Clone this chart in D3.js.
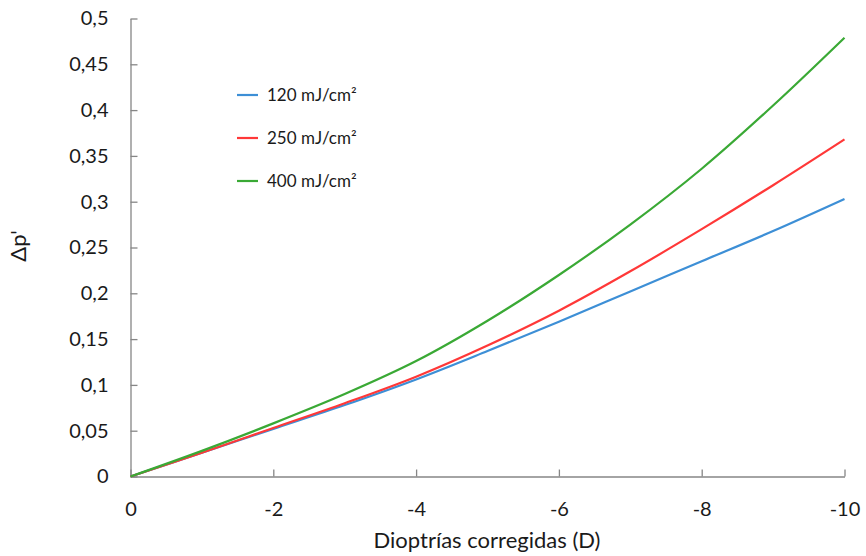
<!DOCTYPE html>
<html>
<head>
<meta charset="utf-8">
<script src="https://cdn.jsdelivr.net/npm/d3@7"></script>
<style>
  html, body { margin: 0; padding: 0; background: #fff; }
  svg { display: block; font-family: Lato, "Open Sans", sans-serif; }
</style>
</head>
<body>
<script>
const diopters = [0, -1, -2, -3, -4, -5, -6, -7, -8, -9, -10];
const s120 = [0, 0.026, 0.052, 0.078, 0.106, 0.137, 0.169, 0.202, 0.235, 0.268, 0.303];
const s250 = [0, 0.026, 0.053, 0.080, 0.109, 0.143, 0.181, 0.224, 0.270, 0.318, 0.368];
const s400 = [0, 0.028, 0.058, 0.090, 0.126, 0.170, 0.220, 0.275, 0.336, 0.405, 0.479];
const seriesNames = ["120 mJ/cm²", "250 mJ/cm²", "400 mJ/cm²"];
const seriesColors = ["#3d8fd6", "#ff3838", "#3aa935"];
const xTicks = [0, -2, -4, -6, -8, -10];
const yTicks = [0, 0.05, 0.1, 0.15, 0.2, 0.25, 0.3, 0.35, 0.4, 0.45, 0.5];
const xTitle = "Dioptrías corregidas (D)";
const yTitle = "Δp'";

const W = 866, H = 556;
const svg = d3.select("body").append("svg").attr("width", W).attr("height", H);

const x = d3.scaleLinear().domain([0, -10]).range([130.5, 844.5]);
const y = d3.scaleLinear().domain([0, 0.5]).range([476.5, 18.5]);

const axisColor = "#868686";
const fmt = v => d3.format(".2~f")(v).replace(".", ",");

// X axis
const gx = svg.append("g").attr("transform", `translate(0,${y(0)})`)
  .call(d3.axisBottom(x).tickValues(xTicks).tickFormat(d => d === 0 ? "0" : String(d)).tickSizeInner(-7).tickSizeOuter(0).tickPadding(25));
gx.select(".domain").attr("stroke", axisColor).attr("stroke-width", 1.3);
gx.selectAll(".tick line").attr("stroke", axisColor).attr("stroke-width", 1.3);
gx.selectAll(".tick text").attr("font-family", "Lato, sans-serif").attr("font-size", 20).attr("fill", "#1a1a1a").attr("dy", "0.71em");

// Y axis
const gy = svg.append("g").attr("transform", `translate(${x(0)},0)`)
  .call(d3.axisLeft(y).tickValues(yTicks).tickFormat(fmt).tickSizeInner(-7).tickSizeOuter(0).tickPadding(22));
gy.select(".domain").attr("stroke", axisColor).attr("stroke-width", 1.3);
gy.selectAll(".tick line").attr("stroke", axisColor).attr("stroke-width", 1.3);
gy.selectAll(".tick text").attr("font-family", "Lato, sans-serif").attr("font-size", 20).attr("fill", "#1a1a1a");

// Lines
const line = d3.line().x(d => x(d[0])).y(d => y(d[1])).curve(d3.curveCatmullRom.alpha(0.5));
[s120, s250, s400].forEach((s, i) => {
  svg.append("path")
    .datum(diopters.map((d, j) => [d, s[j]]))
    .attr("fill", "none")
    .attr("stroke", seriesColors[i])
    .attr("stroke-width", 2.2)
    .attr("d", line);
});

// Legend
const lg = svg.append("g");
seriesNames.forEach((n, i) => {
  const yy = 95 + i * 43;
  lg.append("line").attr("x1", 237).attr("x2", 258).attr("y1", yy).attr("y2", yy)
    .attr("stroke", seriesColors[i]).attr("stroke-width", 2.2);
  lg.append("text").attr("x", 267).attr("y", yy).attr("dy", "0.35em")
    .attr("font-size", 17).attr("fill", "#1a1a1a").text(n);
});

// Titles
svg.append("text").attr("x", 487).attr("y", 548).attr("text-anchor", "middle")
  .attr("font-size", 22).attr("fill", "#1a1a1a").text(xTitle);
svg.append("text").attr("transform", "translate(26,246) rotate(-90)").attr("text-anchor", "middle")
  .attr("font-size", 22).attr("fill", "#1a1a1a").text(yTitle);
</script>
</body>
</html>
